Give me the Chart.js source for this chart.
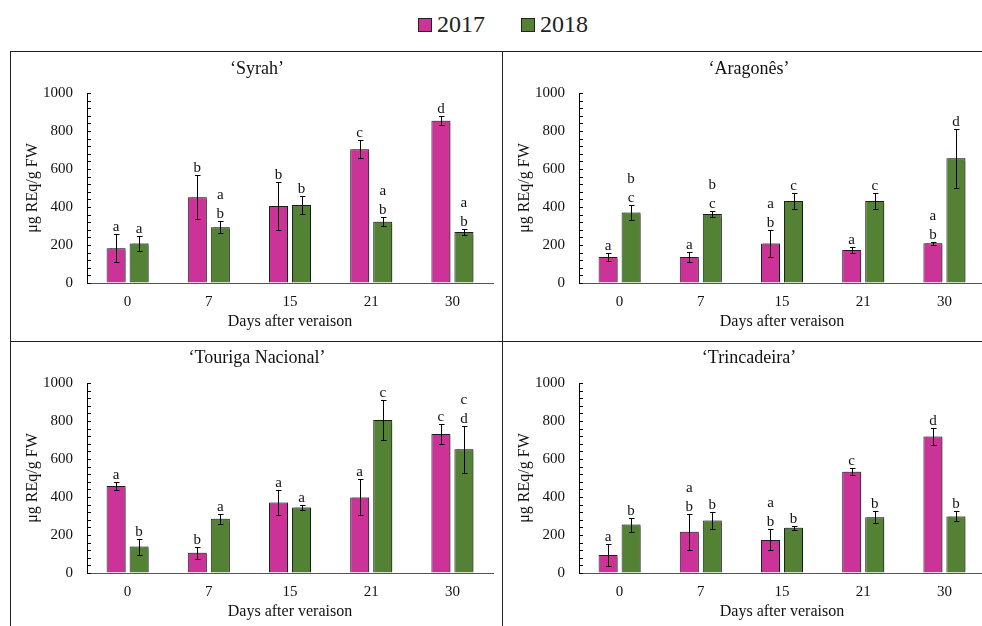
<!DOCTYPE html>
<html>
<head>
<meta charset="utf-8">
<script src="https://cdn.jsdelivr.net/npm/chart.js@4.4.0/dist/chart.umd.min.js"></script>
<style>
  body { margin: 0; width: 982px; height: 626px; overflow: hidden; background: #fff; position: relative; font-family: "Liberation Serif", serif; }
  canvas { position: absolute; }
  .line { position: absolute; background: #222; z-index: 5; }
  .sw { position: absolute; width: 12px; height: 12px; border: 1px solid #222; top: 18px; }
  .lab { position: absolute; top: 12px; font-size: 24px; line-height: 24px; color: #222; }
</style>
</head>
<body>
<div class="sw" style="left:418px;background:#cc3399"></div><span class="lab" style="left:437px">2017</span>
<div class="sw" style="left:521px;background:#548235"></div><span class="lab" style="left:540px">2018</span>

<div class="line" style="left:10px;top:51px;width:972px;height:1px"></div>
<div class="line" style="left:10px;top:51px;width:1px;height:575px"></div>
<div class="line" style="left:502px;top:51px;width:1px;height:575px"></div>
<div class="line" style="left:10px;top:341px;width:972px;height:1px"></div>

<canvas id="syrah" width="491" height="289" style="left:11px;top:52px"></canvas>
<canvas id="aragones" width="491" height="289" style="left:503px;top:52px"></canvas>
<canvas id="touriga" width="491" height="284" style="left:11px;top:342px"></canvas>
<canvas id="trincadeira" width="491" height="284" style="left:503px;top:342px"></canvas>

<script>
const days = ['0', '7', '15', '21', '30'];

// 'Syrah'
const syrah2017 = [183, 451, 405, 704, 854];
const syrah2017Err = [73, 116, 125, 48, 23];
const syrah2017Letters = [['a'], ['b'], ['b'], ['c'], ['d']];
const syrah2018 = [208, 294, 410, 322, 268];
const syrah2018Err = [37, 30, 46, 23, 17];
const syrah2018Letters = [['a'], ['a', 'b'], ['b'], ['a', 'b'], ['a', 'b']];

// 'Aragonês'
const aragones2017 = [137, 137, 208, 174, 209];
const aragones2017Err = [23, 27, 72, 18, 9];
const aragones2017Letters = [['a'], ['a'], ['a', 'b'], ['a'], ['a', 'b']];
const aragones2018 = [371, 363, 431, 431, 657];
const aragones2018Err = [37, 14, 44, 44, 156];
const aragones2018Letters = [['b', 'c'], ['b', 'c'], ['c'], ['c'], ['d']];

// 'Touriga Nacional'
const touriga2017 = [458, 107, 371, 398, 732];
const touriga2017Err = [23, 32, 67, 95, 53];
const touriga2017Letters = [['a'], ['b'], ['a'], ['a'], ['c']];
const touriga2018 = [139, 285, 345, 805, 651];
const touriga2018Err = [42, 25, 11, 107, 125];
const touriga2018Letters = [['b'], ['a'], ['a'], ['c'], ['c', 'd']];

// 'Trincadeira'
const trinc2017 = [95, 217, 174, 533, 718];
const trinc2017Err = [60, 96, 55, 18, 44];
const trinc2017Letters = [['a'], ['a', 'b'], ['a', 'b'], ['c'], ['d']];
const trinc2018 = [255, 276, 238, 294, 298];
const trinc2018Err = [37, 43, 10, 32, 26];
const trinc2018Letters = [['b'], ['b'], ['b'], ['b'], ['b']];

const PINK = '#cc3399';
const GREEN = '#548235';
const FONT = '"Liberation Serif", serif';

// bar shadow, error bars, significance letters, inner minor ticks, panel title
const extras = {
  id: 'extras',
  beforeDatasetsDraw(chart) {
    const ctx = chart.ctx;
    ctx.save();
    ctx.shadowColor = 'rgba(0,0,0,0.35)';
    ctx.shadowOffsetX = 2;
    ctx.shadowOffsetY = -1;
    ctx.shadowBlur = 1;
  },
  afterDatasetsDraw(chart) {
    const ctx = chart.ctx;
    ctx.restore();
    const y = chart.scales.y;
    ctx.save();
    ctx.strokeStyle = '#000';
    ctx.lineWidth = 1;
    ctx.fillStyle = '#111';
    ctx.font = '15px ' + FONT;
    ctx.textAlign = 'center';
    ctx.textBaseline = 'alphabetic';
    chart.data.datasets.forEach((ds, di) => {
      chart.getDatasetMeta(di).data.forEach((bar, i) => {
        const x = Math.round(bar.x) + 0.5;
        const top = Math.round(y.getPixelForValue(ds.data[i] + ds.errors[i])) + 0.5;
        const bot = Math.round(y.getPixelForValue(ds.data[i] - ds.errors[i])) + 0.5;
        ctx.beginPath();
        ctx.moveTo(x, top); ctx.lineTo(x, bot);
        ctx.moveTo(x - 2.5, top); ctx.lineTo(x + 3, top);
        ctx.moveTo(x - 2.5, bot); ctx.lineTo(x + 3, bot);
        ctx.stroke();
        const ls = ds.letters[i];
        ls.forEach((l, k) => {
          ctx.fillText(l, bar.x, top - 4 - (ls.length - 1 - k) * 19);
        });
      });
    });
    ctx.restore();
  },
  afterDraw(chart, args, opts) {
    const ctx = chart.ctx;
    const y = chart.scales.y;
    const left = chart.chartArea.left;
    ctx.save();
    ctx.strokeStyle = '#000';
    ctx.lineWidth = 1;
    ctx.beginPath();
    for (let v = 0; v <= 1000; v += 40) {
      const py = Math.round(y.getPixelForValue(v)) + 0.5;
      ctx.moveTo(left, py);
      ctx.lineTo(left + 4, py);
    }
    ctx.stroke();
    ctx.fillStyle = '#111';
    ctx.font = '18px ' + FONT;
    ctx.textAlign = 'center';
    ctx.textBaseline = 'middle';
    ctx.fillText(opts.title, 246, opts.titleY);
    ctx.restore();
  }
};

function makePanel(id, title, titleY, v17, e17, l17, v18, e18, l18) {
  const canvas = document.getElementById(id);
  const h = canvas.height;
  const tickFont = { family: FONT, size: 15 };
  const titleFont = { family: FONT, size: 16 };
  return new Chart(canvas, {
    type: 'bar',
    data: {
      labels: days,
      datasets: [
        { label: '2017', data: v17, errors: e17, letters: l17, backgroundColor: PINK, borderColor: '#222', borderWidth: 1, categoryPercentage: 0.567, barPercentage: 0.826 },
        { label: '2018', data: v18, errors: e18, letters: l18, backgroundColor: GREEN, borderColor: '#222', borderWidth: 1, categoryPercentage: 0.567, barPercentage: 0.826 }
      ]
    },
    options: {
      responsive: false,
      animation: false,
      layout: { padding: { left: 0, right: 9, top: 41, bottom: 0 } },
      plugins: {
        legend: { display: false },
        tooltip: { enabled: false },
        extras: { title: title, titleY: titleY }
      },
      scales: {
        x: {
          grid: { display: true, drawOnChartArea: false, drawTicks: false },
          border: { color: '#555', width: 1 },
          ticks: { font: tickFont, color: '#111', padding: 10 },
          title: { display: true, text: 'Days after veraison', font: titleFont, color: '#111', padding: { top: 0, bottom: h - 279 } },
          afterFit: (s) => { s.height = h - 231; }
        },
        y: {
          min: 0,
          max: 1000,
          grid: { display: true, drawOnChartArea: false, drawTicks: false },
          border: { color: '#000', width: 1 },
          ticks: { stepSize: 200, font: tickFont, color: '#111', padding: 14, callback: (v) => String(v) },
          title: { display: true, text: 'μg REq/g FW', font: titleFont, color: '#111', padding: { top: 12, bottom: 0 } },
          afterFit: (s) => { s.width = 76; }
        }
      }
    },
    plugins: [extras]
  });
}

makePanel('syrah', '‘Syrah’', 17, syrah2017, syrah2017Err, syrah2017Letters, syrah2018, syrah2018Err, syrah2018Letters);
makePanel('aragones', '‘Aragonês’', 17, aragones2017, aragones2017Err, aragones2017Letters, aragones2018, aragones2018Err, aragones2018Letters);
makePanel('touriga', '‘Touriga Nacional’', 16, touriga2017, touriga2017Err, touriga2017Letters, touriga2018, touriga2018Err, touriga2018Letters);
makePanel('trincadeira', '‘Trincadeira’', 16, trinc2017, trinc2017Err, trinc2017Letters, trinc2018, trinc2018Err, trinc2018Letters);
</script>
</body>
</html>
